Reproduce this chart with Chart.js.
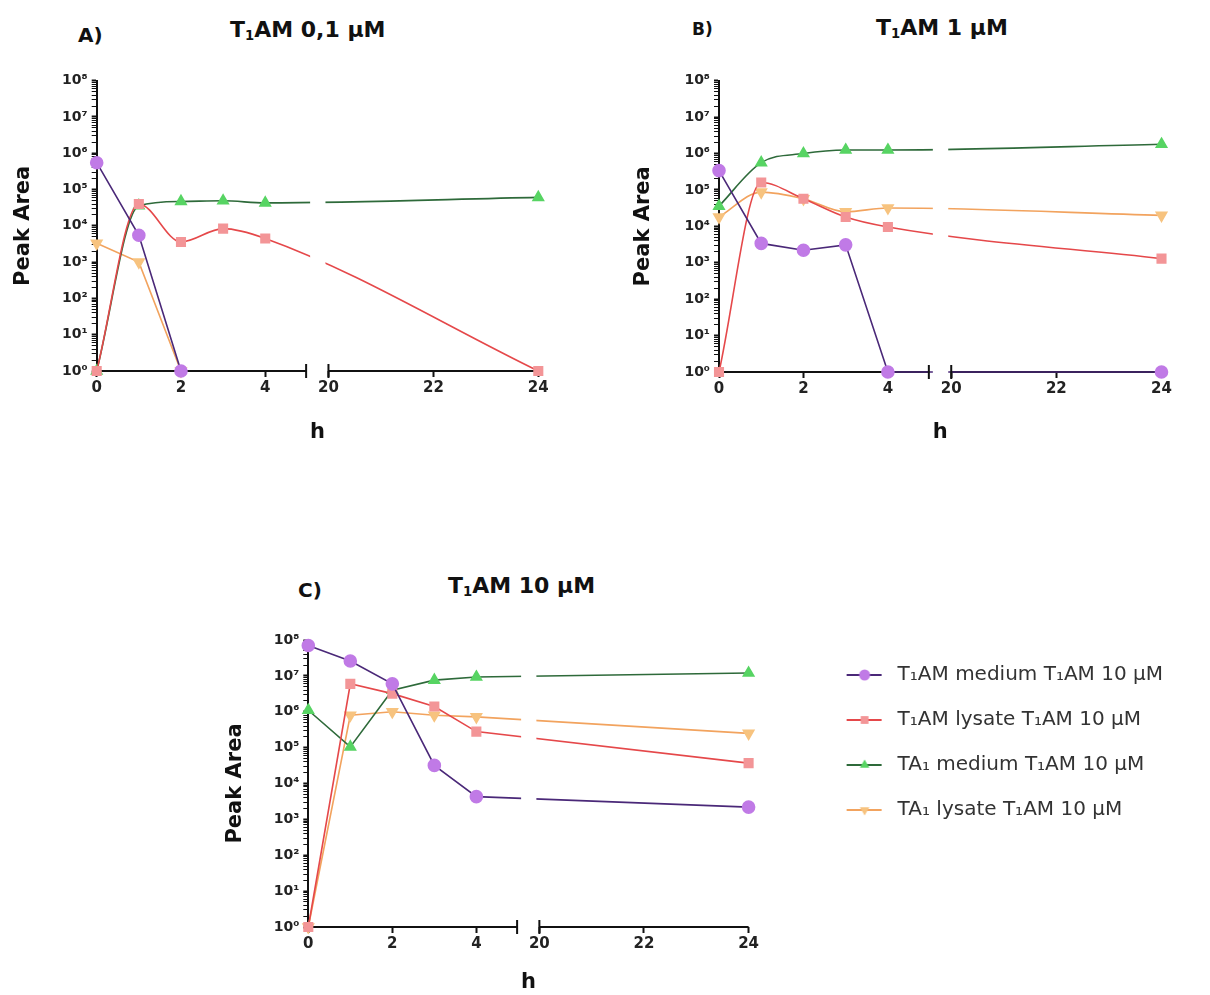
<!DOCTYPE html>
<html>
<head>
<meta charset="utf-8">
<script src="https://cdn.jsdelivr.net/npm/chart.js@4.4.1/dist/chart.umd.min.js"></script>
<style>
  body { margin: 0; background: #fff; width: 1210px; height: 995px; position: relative; overflow: hidden; font-family: 'DejaVu Sans', sans-serif; }
  canvas { position: absolute; }
  .lbl { position: absolute; font-weight: bold; color: #111; white-space: nowrap; line-height: 1; }
  .lbl sub { font-size: 0.6em; vertical-align: -0.25em; line-height: 0; }
</style>
</head>
<body>
<div class="lbl" style="left:78px; top:25px; font-size:20px;">A)</div>
<div class="lbl" style="left:230px; top:19px; font-size:22px;">T<sub>1</sub>AM 0,1 µM</div>
<div class="lbl" style="left:692px; top:21px; font-size:17px;">B)</div>
<div class="lbl" style="left:876px; top:17px; font-size:22px;">T<sub>1</sub>AM 1 µM</div>
<div class="lbl" style="left:298px; top:580px; font-size:20px;">C)</div>
<div class="lbl" style="left:448px; top:575px; font-size:22px;">T<sub>1</sub>AM 10 µM</div>

<canvas id="chartA" width="600" height="445" style="left:0; top:0;"></canvas>
<canvas id="chartB" width="590" height="445" style="left:620px; top:0;"></canvas>
<canvas id="chartC" width="1010" height="435" style="left:200px; top:560px;"></canvas>

<script>
Chart.defaults.font.family = "'DejaVu Sans', sans-serif";

const hours = [0, 1, 2, 3, 4, 24];
const tickHours = [0, 2, 4, 20, 22, 24];
const seriesLabels = ['T₁AM medium T₁AM 10 µM', 'T₁AM lysate T₁AM 10 µM', 'TA₁ medium T₁AM 10 µM', 'TA₁ lysate T₁AM 10 µM'];
const lineColors = ['#4a2878', '#e5484a', '#2e6a3a', '#f2a35e'];
const markerColors = ['#c07ae6', '#f39597', '#57d463', '#f7c37f'];
const markerStyles = ['circle', 'rect', 'triangle', 'triangle'];
const markerRotation = [0, 0, 0, 180];

// A) T1AM 0,1 uM
const aMediumT1AM = [5.5e5, 5.5e3, 1, null, null, null];
const aLysateT1AM = [1, 4e4, 3.6e3, 8.4e3, 4.5e3, 1];
const aMediumTA1 = [1, 3.6e4, 4.7e4, 4.9e4, 4.3e4, 6.1e4];
const aLysateTA1 = [3.3e3, 1e3, 1, null, null, null];

// B) T1AM 1 uM
const bMediumT1AM = [3.4e5, 3.4e3, 2.2e3, 3.1e3, 1, 1];
const bLysateT1AM = [1, 1.6e5, 5.7e4, 1.8e4, 9.6e3, 1.3e3];
const bMediumTA1 = [3.6e4, 5.6e5, 1e6, 1.25e6, 1.25e6, 1.8e6];
const bLysateTA1 = [1.8e4, 8.7e4, 5.7e4, 2.5e4, 3.2e4, 2e4];

// C) T1AM 10 uM
const cMediumT1AM = [7e7, 2.6e7, 6e6, 3.2e4, 4.3e3, 2.2e3];
const cLysateT1AM = [1, 6e6, 3.2e6, 1.4e6, 2.8e5, 3.7e4];
const cMediumTA1 = [1.1e6, 1.05e5, 4e6, 7.6e6, 9.3e6, 1.2e7];
const cLysateTA1 = [1, 8e5, 1e6, 8e5, 7.2e5, 2.5e5];

// broken x axis: 0-4 h at 1 unit per hour, gap, then 20-24 h a bit wider
const BREAK_LO = 4.97;
const SEG2_START = 5.5;
const SEG2_RATIO = 1.245;
function hToAxis(h) {
  return h <= 5 ? h : SEG2_START + (h - 20) * SEG2_RATIO;
}

const sup = ['⁰', '¹', '²', '³', '⁴', '⁵', '⁶', '⁷', '⁸'];
function logTicks() {
  const t = [];
  for (let e = 0; e < 8; e++) {
    for (let m = 1; m < 10; m++) t.push({ value: m * Math.pow(10, e), major: m === 1, exp: e });
  }
  t.push({ value: 1e8, major: true, exp: 8 });
  return t;
}

const brokenAxis = {
  id: 'brokenAxis',
  beforeDatasetsDraw(chart) {
    const { ctx, chartArea: a, scales: { x } } = chart;
    ctx.save();
    ctx.strokeStyle = '#111';
    ctx.lineWidth = 2;
    ctx.beginPath();
    ctx.moveTo(a.left, a.bottom);
    ctx.lineTo(x.getPixelForValue(BREAK_LO), a.bottom);
    ctx.moveTo(x.getPixelForValue(SEG2_START), a.bottom);
    ctx.lineTo(x.getPixelForValue(hToAxis(24)), a.bottom);
    ctx.stroke();
    ctx.restore();
  },
  afterDatasetsDraw(chart) {
    const { ctx, chartArea: a, scales: { x } } = chart;
    const x1 = x.getPixelForValue(BREAK_LO);
    const x2 = x.getPixelForValue(SEG2_START);
    ctx.save();
    ctx.fillStyle = '#fff';
    ctx.fillRect(x1 + 4, a.top - 20, (x2 - 3) - (x1 + 4), a.bottom - a.top + 21);
    ctx.strokeStyle = '#111';
    ctx.lineWidth = 2;
    ctx.beginPath();
    [x1, x2].forEach(px => { ctx.moveTo(px, a.bottom - 7); ctx.lineTo(px, a.bottom + 7); });
    ctx.stroke();
    ctx.restore();
  }
};

function makeDatasets(valueLists, smooth) {
  return valueLists.map((vals, i) => ({
    label: seriesLabels[i],
    data: hours.map((h, j) => ({ x: hToAxis(h), y: vals[j] })),
    borderColor: lineColors[i],
    borderWidth: 1.6,
    backgroundColor: markerColors[i],
    pointBackgroundColor: markerColors[i],
    pointBorderColor: markerColors[i],
    pointStyle: markerStyles[i],
    pointRotation: markerRotation[i],
    pointRadius: 6,
    cubicInterpolationMode: smooth[i] ? 'monotone' : 'default',
    tension: 0,
    clip: false,
    spanGaps: false
  }));
}

// legend: small line + marker images, box wide enough to push text right
const LEGEND_FONT = 20;
const LEGEND_PAD = 25;
const LEGEND_BOX = 114;
function legendSymbol(i) {
  const c = document.createElement('canvas');
  c.width = 110; c.height = 22;
  const g = c.getContext('2d');
  g.strokeStyle = lineColors[i];
  g.lineWidth = 2;
  g.beginPath(); g.moveTo(71, 11); g.lineTo(106, 11); g.stroke();
  g.fillStyle = markerColors[i];
  Chart.helpers.drawPoint(g, { pointStyle: markerStyles[i], rotation: markerRotation[i], radius: 5.5, borderWidth: 0 }, 89, 11);
  return c;
}
function legendWidth() {
  const g = document.createElement('canvas').getContext('2d');
  g.font = LEGEND_FONT + "px 'DejaVu Sans', sans-serif";
  const w = Math.max(...seriesLabels.map(s => g.measureText(s).width));
  // + ~9 px the legend box adds on top of text and symbol
  return LEGEND_PAD + LEGEND_BOX + LEGEND_FONT / 2 + w + 10.3;
}

function panel(id, valueLists, box) {
  return new Chart(document.getElementById(id), {
    type: 'line',
    data: { datasets: makeDatasets(valueLists, box.smooth) },
    options: {
      responsive: false,
      animation: false,
      layout: { padding: { left: box.padLeft, top: box.padTop, right: box.padRight, bottom: 0 } },
      scales: {
        x: {
          type: 'linear',
          min: 0,
          max: hToAxis(24),
          afterBuildTicks: s => { s.ticks = tickHours.map(h => ({ value: hToAxis(h) })); },
          afterFit: s => { s.height = box.xHeight; },
          border: { display: false },
          grid: { drawOnChartArea: false, drawTicks: true, tickLength: 6, tickWidth: 2, tickColor: '#111' },
          ticks: { autoSkip: false, maxRotation: 0, padding: 2, color: '#222', font: { size: 15, weight: 'bold' },
                   callback: (v, i) => String(tickHours[i]) },
          title: { display: true, text: 'h', color: '#111', font: { size: 21, weight: 'bold' }, padding: { top: 0, bottom: 0 } }
        },
        y: {
          type: 'logarithmic',
          min: 1,
          max: 1e8,
          afterBuildTicks: s => { s.ticks = logTicks(); },
          afterFit: s => { s.width = box.yWidth; },
          border: { display: true, color: '#111', width: 2 },
          grid: { drawOnChartArea: false, tickLength: 5, tickColor: '#111',
                  tickWidth: c => (c.tick && c.tick.major ? 2 : 1) },
          ticks: { autoSkip: false, padding: 4, color: '#222', font: { size: 14, weight: 'bold' },
                   callback: (v, i, t) => (t[i].major ? '10' + sup[t[i].exp] : '') },
          title: { display: true, text: 'Peak Area', color: '#111', font: { size: 21, weight: 'bold' }, padding: 0 }
        }
      },
      plugins: {
        legend: box.legend ? {
          display: true,
          position: 'right',
          align: 'start',
          fullSize: false,
          maxWidth: 1000,
          labels: {
            usePointStyle: true,
            pointStyleWidth: LEGEND_BOX,
            padding: LEGEND_PAD,
            textAlign: 'left',
            color: '#333',
            font: { size: LEGEND_FONT },
            generateLabels: chart => chart.data.datasets.map((d, i) => ({
              text: d.label, pointStyle: legendSymbol(i), datasetIndex: i,
              fillStyle: markerColors[i], strokeStyle: lineColors[i], lineWidth: 0,
              hidden: false, fontColor: '#333'
            }))
          }
        } : { display: false },
        tooltip: { enabled: false }
      }
    },
    plugins: [brokenAxis]
  });
}

panel('chartA', [aMediumT1AM, aLysateT1AM, aMediumTA1, aLysateTA1],
  { padLeft: 11, padTop: 80.7, padRight: 61.7, yWidth: 85.7, xHeight: 74, smooth: [false, true, true, false] });
panel('chartB', [bMediumT1AM, bLysateT1AM, bMediumTA1, bLysateTA1],
  { padLeft: 11, padTop: 80.7, padRight: 48.5, yWidth: 88, xHeight: 73, smooth: [false, true, true, true] });
panel('chartC', [cMediumT1AM, cLysateT1AM, cMediumTA1, cLysateTA1],
  { padLeft: 23, padTop: 80, padRight: 1010 - 548.3 - legendWidth(), yWidth: 85.3, xHeight: 68,
    smooth: [false, false, false, false], legend: true });
</script>
</body>
</html>
